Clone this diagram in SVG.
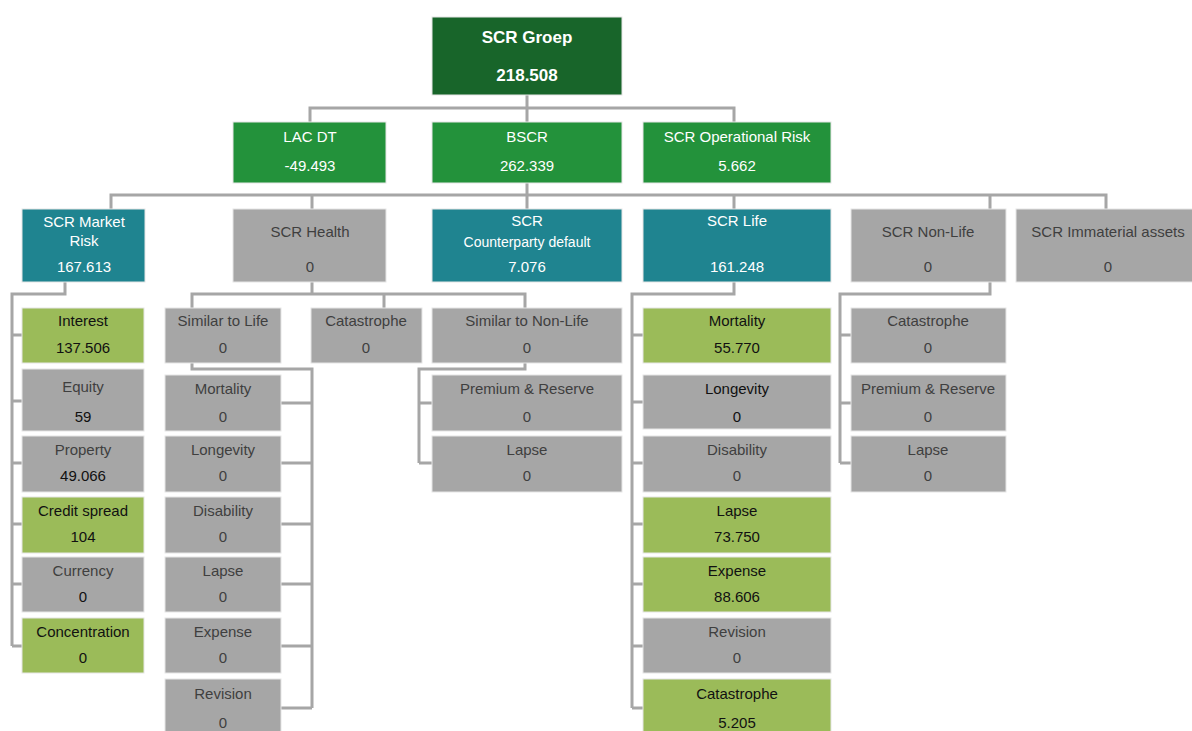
<svg xmlns="http://www.w3.org/2000/svg" width="1192" height="731" viewBox="0 0 1192 731">
<style>
text{font-family:"Liberation Sans",Arial,sans-serif;font-size:15px;text-anchor:middle}
.root rect{fill:#18652a}
.root text{fill:#fff;font-weight:bold;font-size:17px}
.l2 rect{fill:#23923b}
.l2 text{fill:#fff}
.teal rect{fill:#1f8490}
.teal text{fill:#fff}
.gray rect{fill:#a6a6a6}
.gray text{fill:#3f3f3f}
.lg rect{fill:#9bbb59}
.lg text{fill:#111}
.dark text{fill:#111}
.gray text.v{fill:#111}
g rect{stroke:#e6e6e6;stroke-width:1}
#connectors path{fill:none;stroke:#a6a6a6;stroke-width:3}
</style>
<g id="connectors">
<path d="M527 95V122M310 122V108H734V122"/>
<path d="M527 183V209M111 209V195H1106V209M312 195V209M734 195V209M990 195V209"/>
<path d="M65 282V294H12V646M12 335H22M12 401H22M12 463H22M12 524H22M12 584H22M12 646H22"/>
<path d="M312 282V294M192 308V294H525V308M384 294V308"/>
<path d="M192 363V369H312V708M312 403H281M312 463H281M312 524H281M312 584H281M312 646H281M312 708H281"/>
<path d="M525 363V369H419V463M419 403H432M419 463H432"/>
<path d="M734 282V294H632V708M632 335H643M632 402H643M632 463H643M632 524H643M632 584H643M632 646H643M632 708H643"/>
<path d="M990 282V294H840V463M840 335H851M840 403H851M840 463H851"/>
</g>
<g id="n-root" class="root"><rect x="432" y="17" width="190" height="78"/><text x="527" y="43">SCR Groep</text><text x="527" y="81">218.508</text></g>
<g id="n-lacdt" class="l2"><rect x="233" y="122" width="153" height="61"/><text x="310" y="142">LAC DT</text><text x="310" y="171">-49.493</text></g>
<g id="n-bscr" class="l2"><rect x="432" y="122" width="190" height="61"/><text x="527" y="142">BSCR</text><text x="527" y="171">262.339</text></g>
<g id="n-oprisk" class="l2"><rect x="643" y="122" width="188" height="61"/><text x="737" y="142">SCR Operational Risk</text><text x="737" y="171">5.662</text></g>
<g id="n-market" class="teal"><rect x="22" y="209" width="123" height="73"/><text x="84" y="227">SCR Market</text><text x="84" y="246">Risk</text><text x="84" y="272">167.613</text></g>
<g id="n-health" class="gray"><rect x="233" y="209" width="153" height="73"/><text x="310" y="237">SCR Health</text><text x="310" y="272">0</text></g>
<g id="n-counterparty" class="teal"><rect x="432" y="209" width="190" height="73"/><text x="527" y="226">SCR</text><text x="527" y="247" style="font-size:14px">Counterparty default</text><text x="527" y="272">7.076</text></g>
<g id="n-life" class="teal"><rect x="643" y="209" width="188" height="73"/><text x="737" y="226">SCR Life</text><text x="737" y="272">161.248</text></g>
<g id="n-nonlife" class="gray"><rect x="851" y="209" width="155" height="73"/><text x="928" y="237">SCR Non-Life</text><text x="928" y="272">0</text></g>
<g id="n-immaterial" class="gray"><rect x="1016" y="209" width="184" height="73"/><text x="1108" y="237">SCR Immaterial assets</text><text x="1108" y="272">0</text></g>
<g id="m-interest" class="lg"><rect x="22" y="308" width="122" height="55"/><text x="83" y="326">Interest</text><text x="83" y="353">137.506</text></g>
<g id="m-equity" class="gray"><rect x="22" y="369" width="122" height="62"/><text x="83" y="392">Equity</text><text class="v" x="83" y="422">59</text></g>
<g id="m-property" class="gray"><rect x="22" y="436" width="122" height="56"/><text x="83" y="455">Property</text><text class="v" x="83" y="481">49.066</text></g>
<g id="m-credit" class="lg"><rect x="22" y="497" width="122" height="56"/><text x="83" y="516">Credit spread</text><text x="83" y="542">104</text></g>
<g id="m-currency" class="gray"><rect x="22" y="557" width="122" height="55"/><text x="83" y="576">Currency</text><text class="v" x="83" y="602">0</text></g>
<g id="m-concentration" class="lg"><rect x="22" y="618" width="122" height="55"/><text x="83" y="637">Concentration</text><text x="83" y="663">0</text></g>
<g id="h-simlife" class="gray"><rect x="165" y="308" width="116" height="55"/><text x="223" y="326">Similar to Life</text><text x="223" y="353">0</text></g>
<g id="h-cat" class="gray"><rect x="311" y="308" width="111" height="55"/><text x="366" y="326">Catastrophe</text><text x="366" y="353">0</text></g>
<g id="h-simnonlife" class="gray"><rect x="432" y="308" width="190" height="55"/><text x="527" y="326">Similar to Non-Life</text><text x="527" y="353">0</text></g>
<g id="sl-mortality" class="gray"><rect x="165" y="375" width="116" height="56"/><text x="223" y="394">Mortality</text><text x="223" y="422">0</text></g>
<g id="sl-longevity" class="gray"><rect x="165" y="436" width="116" height="56"/><text x="223" y="455">Longevity</text><text x="223" y="481">0</text></g>
<g id="sl-disability" class="gray"><rect x="165" y="497" width="116" height="56"/><text x="223" y="516">Disability</text><text x="223" y="542">0</text></g>
<g id="sl-lapse" class="gray"><rect x="165" y="557" width="116" height="55"/><text x="223" y="576">Lapse</text><text x="223" y="602">0</text></g>
<g id="sl-expense" class="gray"><rect x="165" y="618" width="116" height="55"/><text x="223" y="637">Expense</text><text x="223" y="663">0</text></g>
<g id="sl-revision" class="gray"><rect x="165" y="679" width="116" height="60"/><text x="223" y="699">Revision</text><text x="223" y="728">0</text></g>
<g id="snl-premium" class="gray"><rect x="432" y="375" width="190" height="56"/><text x="527" y="394">Premium &amp; Reserve</text><text x="527" y="422">0</text></g>
<g id="snl-lapse" class="gray"><rect x="432" y="436" width="190" height="56"/><text x="527" y="455">Lapse</text><text x="527" y="481">0</text></g>
<g id="l-mortality" class="lg"><rect x="643" y="308" width="188" height="55"/><text x="737" y="326">Mortality</text><text x="737" y="353">55.770</text></g>
<g id="l-longevity" class="gray dark"><rect x="643" y="375" width="188" height="54"/><text x="737" y="394">Longevity</text><text x="737" y="422">0</text></g>
<g id="l-disability" class="gray"><rect x="643" y="436" width="188" height="56"/><text x="737" y="455">Disability</text><text x="737" y="481">0</text></g>
<g id="l-lapse" class="lg"><rect x="643" y="497" width="188" height="56"/><text x="737" y="516">Lapse</text><text x="737" y="542">73.750</text></g>
<g id="l-expense" class="lg"><rect x="643" y="557" width="188" height="55"/><text x="737" y="576">Expense</text><text x="737" y="602">88.606</text></g>
<g id="l-revision" class="gray"><rect x="643" y="618" width="188" height="55"/><text x="737" y="637">Revision</text><text x="737" y="663">0</text></g>
<g id="l-catastrophe" class="lg"><rect x="643" y="679" width="188" height="60"/><text x="737" y="699">Catastrophe</text><text x="737" y="728">5.205</text></g>
<g id="nl-cat" class="gray"><rect x="851" y="308" width="155" height="55"/><text x="928" y="326">Catastrophe</text><text x="928" y="353">0</text></g>
<g id="nl-premium" class="gray"><rect x="851" y="375" width="155" height="56"/><text x="928" y="394">Premium &amp; Reserve</text><text x="928" y="422">0</text></g>
<g id="nl-lapse" class="gray"><rect x="851" y="436" width="155" height="56"/><text x="928" y="455">Lapse</text><text x="928" y="481">0</text></g>
</svg>
